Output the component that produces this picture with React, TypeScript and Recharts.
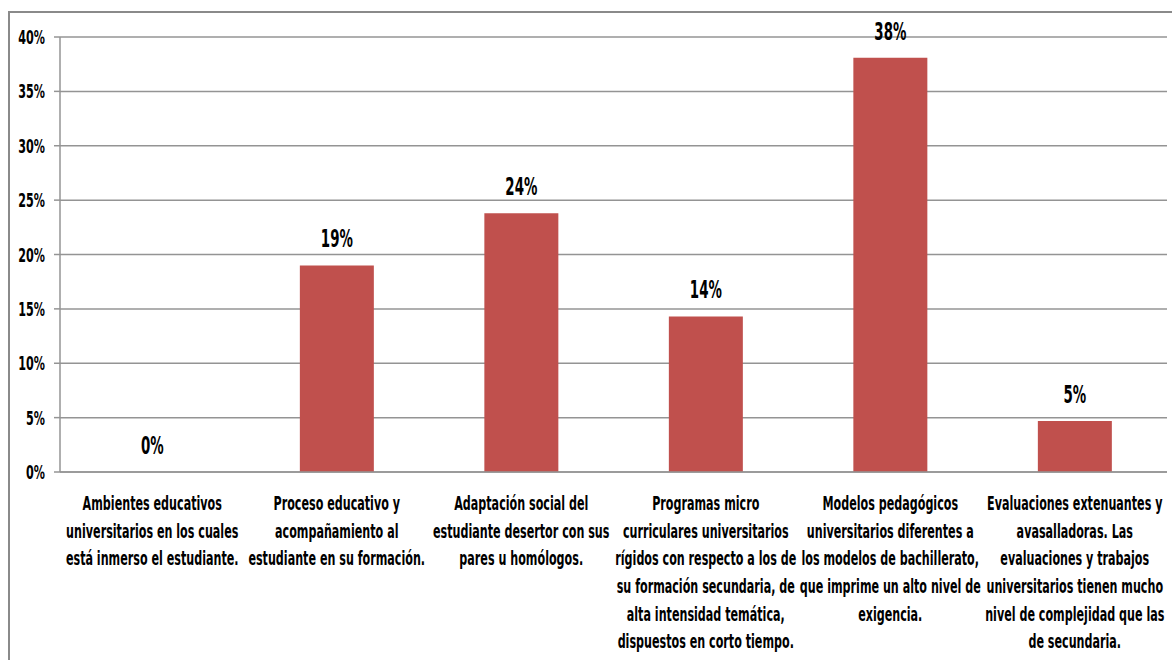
import { BarChart, Bar, XAxis, YAxis, CartesianGrid, LabelList } from "recharts"

// Categories (line breaks as in the original chart)
const categories = [
  "Ambientes educativos\nuniversitarios en los cuales\nestá inmerso el estudiante.",
  "Proceso educativo y\nacompañamiento al\nestudiante en su formación.",
  "Adaptación social del\nestudiante desertor con sus\npares u homólogos.",
  "Programas micro\ncurriculares universitarios\nrígidos con respecto a los de\nsu formación secundaria, de\nalta intensidad temática,\ndispuestos en corto tiempo.",
  "Modelos pedagógicos\nuniversitarios diferentes a\nlos modelos de bachillerato,\nque imprime un alto nivel de\nexigencia.",
  "Evaluaciones extenuantes y\navasalladoras. Las\nevaluaciones y trabajos\nuniversitarios tienen mucho\nnivel de complejidad que las\nde secundaria.",
]

const values = [0, 0.19, 0.238, 0.143, 0.381, 0.047]

const yTicks = [0, 0.05, 0.1, 0.15, 0.2, 0.25, 0.3, 0.35, 0.4]

// category boundaries for the small tick marks under the axis
const edgeTicks = [0, 1, 2, 3, 4, 5, 6]

const data = categories.map((name, i) => ({ name, value: values[i] }))

const FONT = "'DejaVu Sans Condensed', 'DejaVu Sans', sans-serif"
const SQUEEZE = "scale(0.62,1)"
const GRID = "#949494"
const BAR = "#C0504D"

const pct = (v: number) => `${Math.round(v * 100)}%`

const CategoryTick = (props: any) => {
  const { x, y, payload } = props
  const lines = String(payload.value).split("\n")
  return (
    <g transform={`translate(${x},${y})`}>
      <text
        transform={SQUEEZE}
        textAnchor="middle"
        fontFamily={FONT}
        fontWeight="bold"
        fontSize={20}
        fill="#000"
      >
        {lines.map((line, i) => (
          <tspan key={i} x={0} y={38 + i * 27.7}>
            {line}
          </tspan>
        ))}
      </text>
    </g>
  )
}

const PercentTick = (props: any) => {
  const { x, y, payload } = props
  return (
    <g transform={`translate(${x},${y})`}>
      <text
        transform={SQUEEZE}
        y={7}
        textAnchor="end"
        fontFamily={FONT}
        fontWeight="bold"
        fontSize={20}
        fill="#000"
      >
        {pct(payload.value)}
      </text>
    </g>
  )
}

const ValueLabel = (props: any) => {
  const { x, y, width, value } = props
  return (
    <g transform={`translate(${x + width / 2},${y - 18})`}>
      <text
        transform={SQUEEZE}
        textAnchor="middle"
        fontFamily={FONT}
        fontWeight="bold"
        fontSize={24}
        fill="#000"
      >
        {pct(Number(value) || 0)}
      </text>
    </g>
  )
}

export default function App() {
  return (
    <div
      style={{
        position: "fixed",
        left: 0,
        top: 0,
        width: 1172,
        height: 660,
        overflow: "hidden",
        background: "#fff",
      }}
    >
      <div
        style={{
          position: "absolute",
          left: 8,
          top: 11,
          width: 1170,
          height: 660,
          borderLeft: "2px solid #8a8a8a",
          borderTop: "2px solid #8a8a8a",
        }}
      />
      <div style={{ position: "absolute", left: 10, top: 13 }}>
        <BarChart
          width={1162}
          height={647}
          data={data}
          margin={{ top: 24, right: 5, bottom: 0, left: 0 }}
          barCategoryGap="30%"
        >
          <CartesianGrid vertical={false} stroke={GRID} strokeWidth={1.5} />
          <XAxis
            xAxisId="edges"
            type="number"
            domain={[0, 6]}
            ticks={edgeTicks}
            allowDataOverflow
            height={0}
            axisLine={false}
            tickLine={{ stroke: GRID, strokeWidth: 1.5 }}
            tickSize={8}
            tick={() => <g />}
          />
          <XAxis
            dataKey="name"
            height={188}
            interval={0}
            axisLine={{ stroke: GRID, strokeWidth: 1.5 }}
            tickLine={false}
            tickSize={0}
            tickMargin={0}
            tick={<CategoryTick />}
          />
          <YAxis
            width={50}
            domain={[0, 0.4]}
            ticks={yTicks}
            interval={0}
            axisLine={{ stroke: GRID, strokeWidth: 1.5 }}
            tickLine={{ stroke: GRID, strokeWidth: 1.5 }}
            tickSize={6}
            tickMargin={9}
            tick={<PercentTick />}
          />
          <Bar dataKey="value" fill={BAR} minPointSize={0.01} isAnimationActive={false}>
            <LabelList dataKey="value" content={<ValueLabel />} />
          </Bar>
        </BarChart>
      </div>
    </div>
  )
}
